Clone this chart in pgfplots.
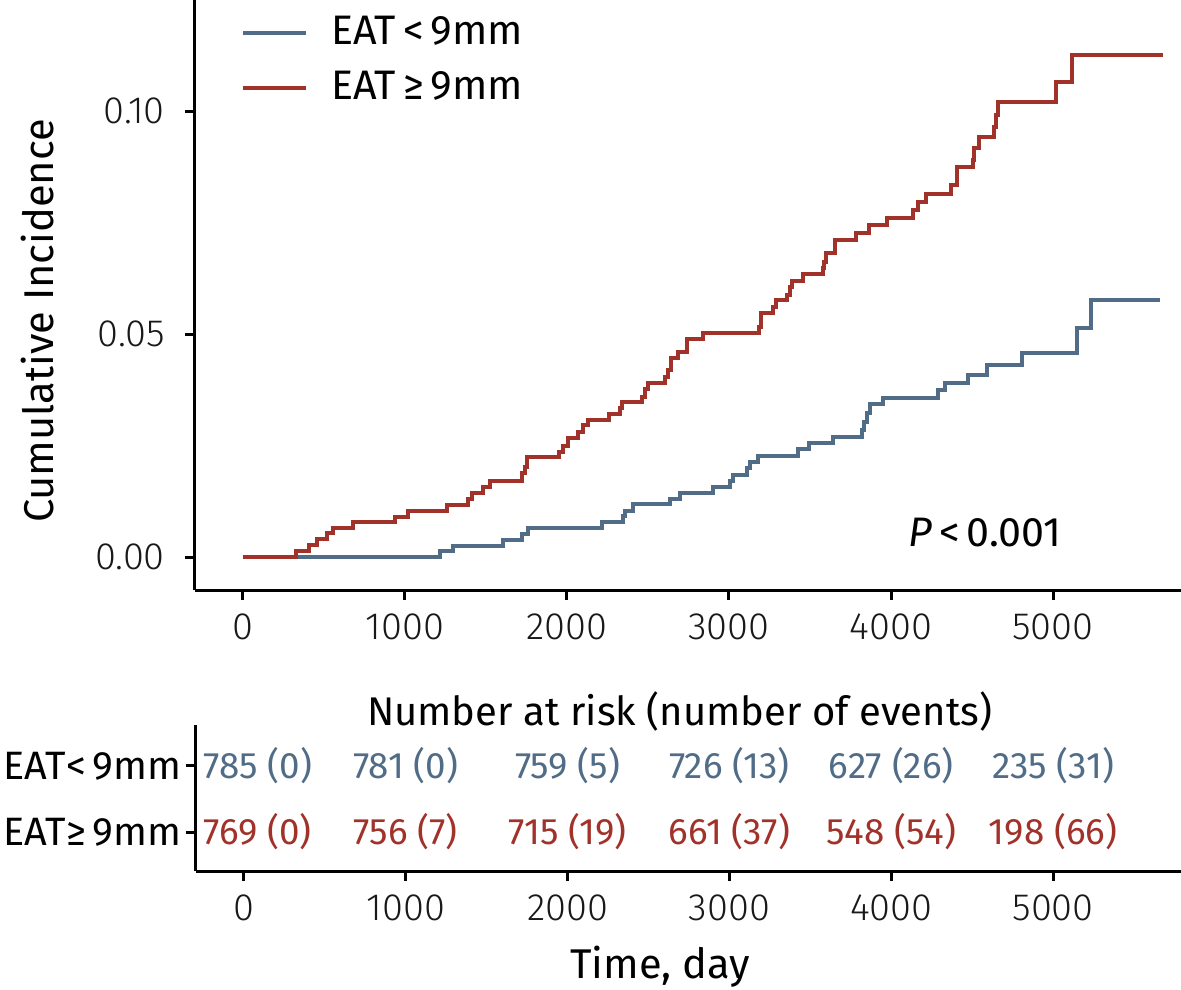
\documentclass[border=0pt]{standalone}
\usepackage{pgfplots}
\pgfplotsset{compat=1.18}
\usepackage{fontspec}
\setmainfont{Fira Sans}
\IfFontExistsTF{Fira Sans Light}{\newfontfamily\ticklight{Fira Sans Light}}{\newcommand\ticklight{}}
\definecolor{eatlow}{RGB}{80,108,135}
\definecolor{eathigh}{RGB}{160,50,42}

\begin{document}
\begin{tikzpicture}
\useasboundingbox (0,0) rectangle (295.25pt,-247.25pt);

\pgfplotsset{
  kmaxis/.style={
    scale only axis,
    axis x line*=bottom, axis y line*=left,
    axis line style={line width=0.75pt, black},
    every tick/.style={line width=0.75pt, black},
    tick align=outside, major tick length=2.5pt,
    xmin=-296, xmax=5790,
    xtick={0,1000,2000,3000,4000,5000},
    xticklabels={0,1000,2000,3000,4000,5000},
    tick label style={font=\ticklight\fontsize{9.5}{11}\selectfont, black!90},
    clip=false,
  }
}

% cumulative incidence
\begin{axis}[kmaxis,
  at={(48.75pt,-147.5pt)}, anchor=south west,
  width=246.5pt, height=147.5pt,
  ymin=-0.0074, ymax=0.1249,
  ytick={0,0.05,0.10}, yticklabels={0.00,0.05,0.10},
  yticklabel style={xshift=-1.5pt},
  legend style={at={(0.034,0.995)}, anchor=north west, draw=none, fill=none,
    font=\fontsize{10.3}{12}\selectfont, row sep=3.2pt,
    nodes={inner sep=1pt}},
  legend cell align=left,
  legend image code/.code={\draw[#1] (0pt,0pt) -- (15.75pt,0pt); \path (20.5pt,0pt);},
]
\addplot[const plot, eatlow, line width=1pt] coordinates {
(0,0) (1216,0.0013) (1296,0.0025) (1605,0.0038) (1722,0.0052) (1760,0.0065)
(2216,0.0079) (2345,0.0092) (2358,0.0103) (2407,0.0118) (2636,0.0130)
(2698,0.0144) (2901,0.0157) (3006,0.0170) (3025,0.0184) (3111,0.0200)
(3130,0.0213) (3179,0.0226) (3426,0.0242) (3494,0.0256) (3642,0.0270)
(3821,0.0285) (3833,0.0303) (3852,0.0323) (3870,0.0343) (3951,0.0357)
(4290,0.0374) (4333,0.0390) (4475,0.0408) (4593,0.0430) (4809,0.0457)
(5148,0.0513) (5235,0.0576) (5660,0.0576)
};
\addlegendentry{EAT\,<\,9mm}
\addplot[const plot, eathigh, line width=1pt] coordinates {
(0,0) (327,0.0013) (407,0.0027) (457,0.0040) (518,0.0054) (556,0.0065)
(679,0.0078) (938,0.0090) (1018,0.0103) (1259,0.0117) (1389,0.0130)
(1414,0.0143) (1481,0.0157) (1525,0.0170) (1722,0.0188) (1740,0.0202)
(1753,0.0224) (1951,0.0235) (1975,0.0249) (2006,0.0267) (2068,0.0280)
(2100,0.0296) (2130,0.0307) (2259,0.0321) (2327,0.0334) (2340,0.0348)
(2463,0.0359) (2481,0.0376) (2500,0.0390) (2605,0.0404) (2623,0.0419)
(2642,0.0446) (2685,0.0460) (2741,0.0489) (2840,0.0502) (3185,0.0516)
(3198,0.0547) (3272,0.0560) (3290,0.0576) (3358,0.0587) (3377,0.0605)
(3389,0.0619) (3457,0.0635) (3580,0.0648) (3587,0.0662) (3599,0.0682)
(3654,0.0711) (3784,0.0726) (3864,0.0744) (3975,0.0760) (4136,0.0778)
(4167,0.0796) (4216,0.0814) (4370,0.0834) (4407,0.0874) (4506,0.0890)
(4512,0.0917) (4543,0.0942) (4636,0.0964) (4648,0.0991) (4660,0.1020)
(5019,0.1065) (5117,0.1126) (5679,0.1126)
};
\addlegendentry{EAT\,≥\,9mm}
\node[font=\fontsize{10.3}{12}\selectfont] at (axis cs:4580,0.0054) {\textit{P}\,<\,0.001};
\end{axis}

\node[rotate=90, font=\fontsize{10.4}{12}\selectfont] at (9.5pt,-80.25pt) {Cumulative Incidence};

% number at risk table
\begin{axis}[kmaxis,
  at={(49pt,-217.75pt)}, anchor=south west,
  width=246.25pt, height=36.5pt,
  ymin=0.41, ymax=2.62,
  ytick={1,2}, yticklabels={EAT≥\,9mm, EAT<\,9mm},
  yticklabel style={font=\fontsize{9.9}{12}\selectfont, black, inner sep=1pt},
  xlabel={Time, day},
  xlabel style={font=\fontsize{10.4}{12}\selectfont, at={(rel axis cs:0.471,0)},
    anchor=center, yshift=-24pt},
]
\addplot[draw=none, eatlow, nodes near coords, point meta=explicit symbolic,
  every node near coord/.style={anchor=center, font=\fontsize{9.2}{11}\selectfont}]
  coordinates {
  (86,2)[785 (0)] (1000,2)[781 (0)] (2000,2)[759 (5)]
  (3000,2)[726 (13)] (4000,2)[627 (26)] (5000,2)[235 (31)]
};
\addplot[draw=none, eathigh, nodes near coords, point meta=explicit symbolic,
  every node near coord/.style={anchor=center, font=\fontsize{9.2}{11}\selectfont}]
  coordinates {
  (86,1)[769 (0)] (1000,1)[756 (7)] (2000,1)[715 (19)]
  (3000,1)[661 (37)] (4000,1)[548 (54)] (5000,1)[198 (66)]
};
\node[font=\fontsize{10}{12}\selectfont] at (rel axis cs:0.491,1) [yshift=3.5pt] {Number at risk (number of events)};
\end{axis}
\end{tikzpicture}
\end{document}
